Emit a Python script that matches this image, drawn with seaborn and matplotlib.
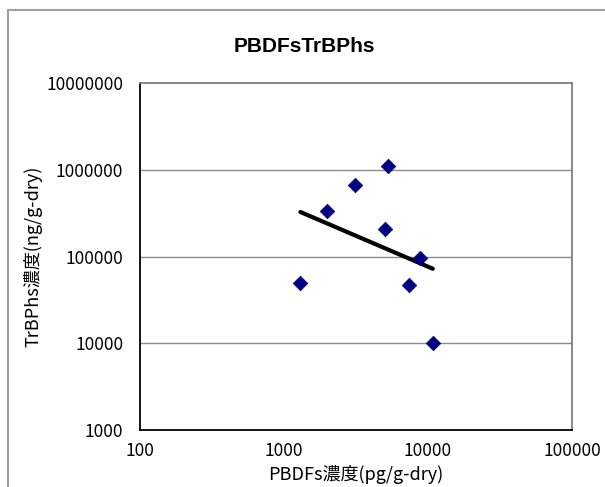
import numpy as np
import pandas as pd
import matplotlib
matplotlib.use("Agg")
import matplotlib.pyplot as plt
import seaborn as sns
from matplotlib.ticker import FixedLocator, FixedFormatter, NullLocator

# data
pbdfs = [1300, 2000, 3100, 5300, 5000, 8800, 7400, 10800]
trbphs = [50000, 335000, 665000, 1100000, 210000, 97000, 47000, 10000]
x_ticks = [100, 1000, 10000, 100000]
x_labels = ["100", "1000", "10000", "100000"]
y_ticks = [1000, 10000, 100000, 1000000, 10000000]
y_labels = ["1000", "10000", "100000", "1000000", "10000000"]
title = "PBDFsTrBPhs"
xlabel = "PBDFs濃度(pg/g-dry)"
ylabel = "TrBPhs濃度(ng/g-dry)"

sns.set_theme(style="white")
plt.rcParams['font.family'] = ['Noto Sans CJK JP', 'DejaVu Sans']
plt.rcParams['text.color'] = 'black'
plt.rcParams['axes.labelcolor'] = 'black'

df = pd.DataFrame({"x": pbdfs, "y": trbphs})

# power trendline (least squares in log-log space)
lx = np.log10(df["x"]); ly = np.log10(df["y"])
b, a = np.polyfit(lx, ly, 1)
tx = np.array([df["x"].min(), df["x"].max()])
trend = pd.DataFrame({"x": tx, "y": 10 ** (a + b * np.log10(tx))})

fig = plt.figure(figsize=(6.05, 4.87), dpi=100)
ax = fig.add_axes([140/605, 1-430/487, 432/605, 347/487])
ax.set_xscale("log"); ax.set_yscale("log")
ax.set_xlim(100, 100000); ax.set_ylim(1000, 10000000)

for yv in y_ticks[1:-1]:
    ax.axhline(yv, color="#8c8c8c", lw=1, zorder=0)

sns.lineplot(data=trend, x="x", y="y", ax=ax, color="black", lw=3, zorder=2)
sns.scatterplot(data=df, x="x", y="y", ax=ax, marker="D", s=55, color="#000080",
                edgecolor="#000080", linewidth=0.5, zorder=3)

ax.xaxis.set_major_locator(FixedLocator(x_ticks))
ax.xaxis.set_major_formatter(FixedFormatter(x_labels))
ax.yaxis.set_major_locator(FixedLocator(y_ticks))
ax.yaxis.set_major_formatter(FixedFormatter(y_labels))
ax.xaxis.set_minor_locator(NullLocator())
ax.yaxis.set_minor_locator(NullLocator())
ax.tick_params(axis="both", which="major", direction="in", length=4, width=1,
               colors="#888888", labelcolor="black", labelsize=12.5)
ax.tick_params(axis="x", pad=9)
ax.tick_params(axis="y", pad=12)

for s in ["left", "bottom"]:
    ax.spines[s].set_color("black"); ax.spines[s].set_linewidth(1.3)
for s in ["top", "right"]:
    ax.spines[s].set_color("#7f7f7f"); ax.spines[s].set_linewidth(1.3)
    ax.spines[s].set_visible(True)

ax.set_xlabel(xlabel, fontsize=13, labelpad=3, color="black")
ax.set_ylabel(ylabel, fontsize=13, labelpad=3, color="black")
fig.text(0.503, 1-47/487, title, ha="center", va="center", fontsize=15,
         fontweight="bold", color="black", family=['Liberation Sans', 'DejaVu Sans'])

# outer chart border
fig.add_artist(plt.Line2D([8/605, 8/605], [0, 1-10/487], color="#8a8a8a", lw=1.2,
                          transform=fig.transFigure))
fig.add_artist(plt.Line2D([8/605, 1], [1-10/487, 1-10/487], color="#a0a0a0", lw=1.5,
                          transform=fig.transFigure))

fig.savefig("out.png", dpi=100)
